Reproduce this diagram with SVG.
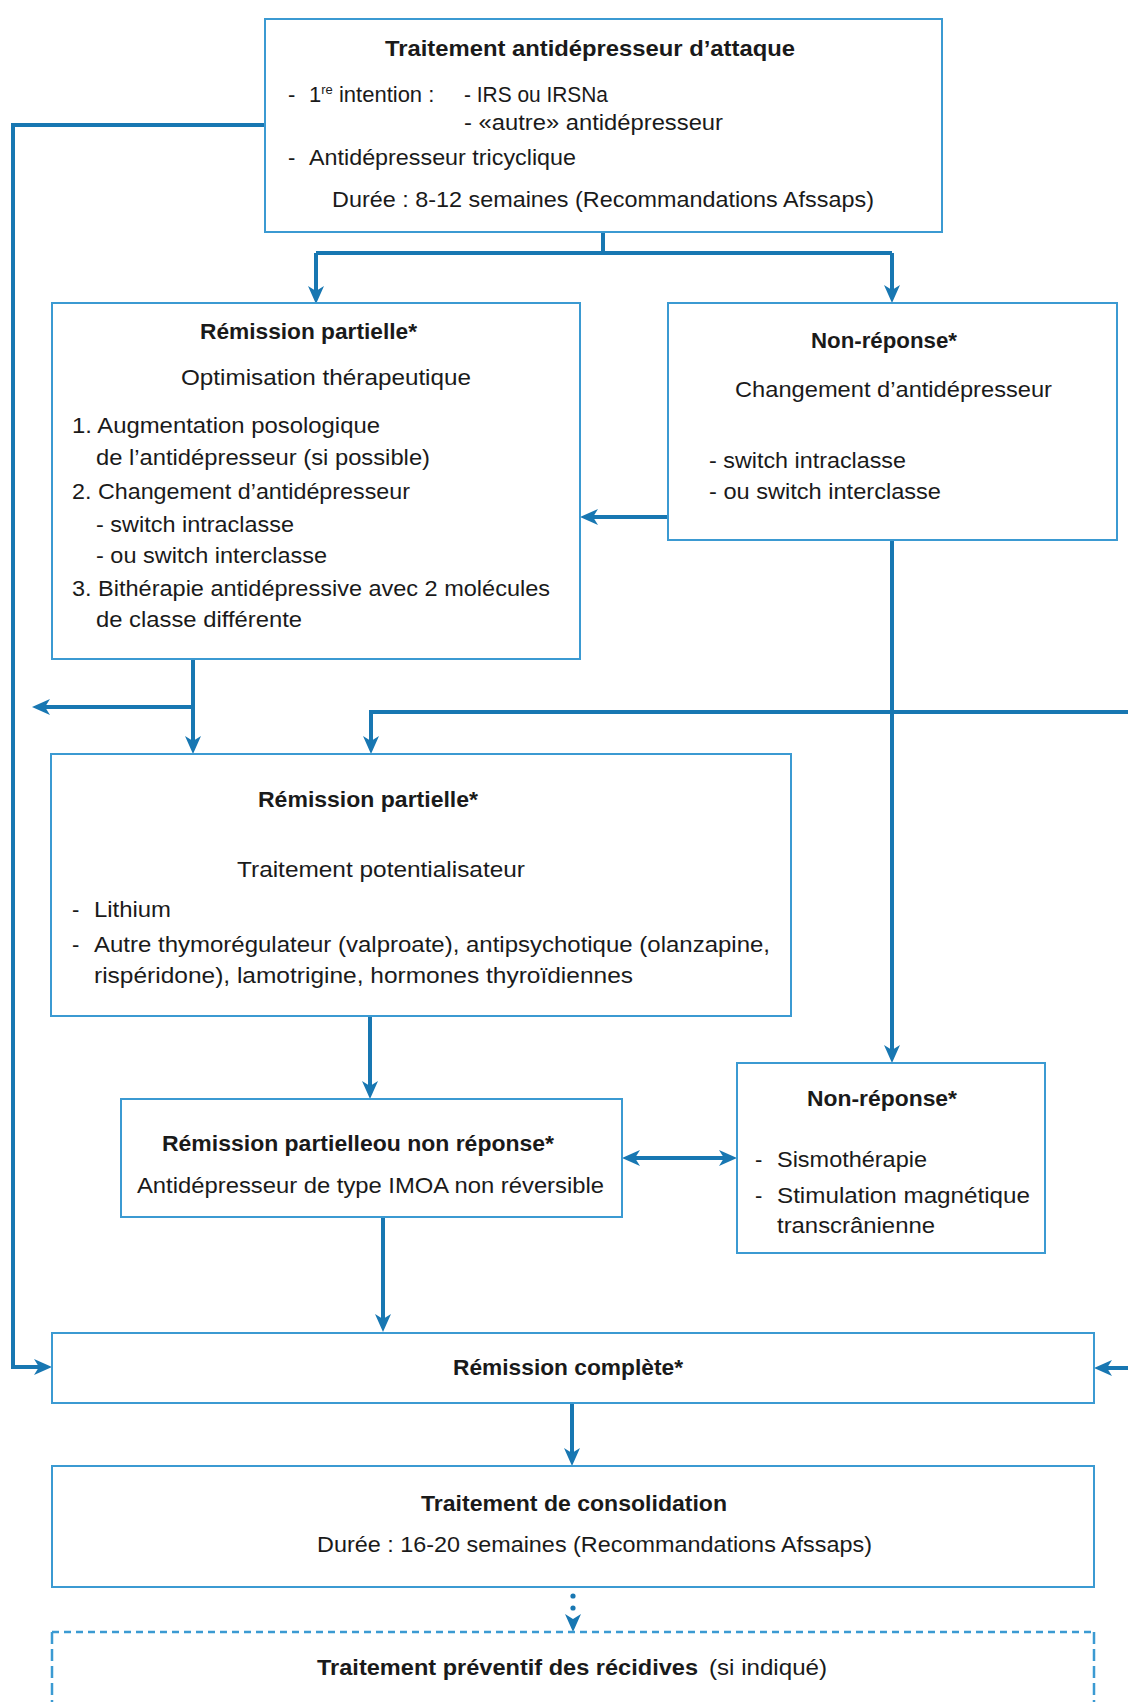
<svg xmlns="http://www.w3.org/2000/svg" width="1128" height="1702" viewBox="0 0 1128 1702">
<style>
.box{fill:#fff;stroke:#3b9ad2;stroke-width:2}
.dbox{fill:none;stroke:#3b9ad2;stroke-width:2.5}
.t{font-family:"Liberation Sans",Arial,sans-serif;font-size:22px;fill:#1a1a1a}
.b{font-family:"Liberation Sans",Arial,sans-serif;font-size:22px;font-weight:bold;fill:#1a1a1a}
.c{fill:none;stroke:#1877b2;stroke-width:4}
</style>
<defs>
<marker id="ah" viewBox="0 0 18 16" refX="6" refY="8" markerWidth="18" markerHeight="16" markerUnits="userSpaceOnUse" orient="auto-start-reverse">
<path d="M0,0 L18,8 L0,16 L5,8 z" fill="#1877b2"/>
</marker>
</defs>
<rect width="1128" height="1702" fill="#fff"/>

<g id="connectors">
<path class="c" d="M265,125 H13 V1367 H40" marker-end="url(#ah)"/>
<path class="c" d="M603,232 V253"/>
<path class="c" d="M316,253 H892"/>
<path class="c" d="M316,253 V292" marker-end="url(#ah)"/>
<path class="c" d="M892,253 V291" marker-end="url(#ah)"/>
<path class="c" d="M667,517 H592" marker-end="url(#ah)"/>
<path class="c" d="M193,659 V742" marker-end="url(#ah)"/>
<path class="c" d="M193,707 H44" marker-end="url(#ah)"/>
<path class="c" d="M1128,712 H371 V742" marker-end="url(#ah)"/>
<path class="c" d="M892,540 V1051" marker-end="url(#ah)"/>
<path class="c" d="M370,1016 V1087" marker-end="url(#ah)"/>
<path class="c" d="M634,1158 H725" marker-start="url(#ah)" marker-end="url(#ah)"/>
<path class="c" d="M383,1217 V1320" marker-end="url(#ah)"/>
<path class="c" d="M1128,1368 H1106" marker-end="url(#ah)"/>
<path class="c" d="M572,1403 V1454" marker-end="url(#ah)"/>
<circle cx="573" cy="1596" r="2.6" fill="#1877b2"/>
<circle cx="573" cy="1608" r="2.6" fill="#1877b2"/>
<path class="c" d="M573,1619 V1620" marker-end="url(#ah)"/>
</g>

<g id="n1">
<rect class="box" x="265" y="19" width="677" height="213"/>
<text class="b" x="385" y="56" textLength="410" lengthAdjust="spacingAndGlyphs">Traitement antidépresseur d’attaque</text>
<text class="t" x="288" y="102">-</text>
<text class="t" x="309" y="102">1<tspan font-size="13" dy="-8">re</tspan><tspan dy="8"> intention :</tspan></text>
<text class="t" x="464" y="102" textLength="144" lengthAdjust="spacingAndGlyphs">- IRS ou IRSNa</text>
<text class="t" x="464" y="130" textLength="259" lengthAdjust="spacingAndGlyphs">- «autre» antidépresseur</text>
<text class="t" x="288" y="165">-</text>
<text class="t" x="309" y="165" textLength="267" lengthAdjust="spacingAndGlyphs">Antidépresseur tricyclique</text>
<text class="t" x="332" y="207" textLength="542" lengthAdjust="spacingAndGlyphs">Durée : 8-12 semaines (Recommandations Afssaps)</text>
</g>

<g id="n2">
<rect class="box" x="52" y="303" width="528" height="356"/>
<text class="b" x="200" y="339" textLength="217" lengthAdjust="spacingAndGlyphs">Rémission partielle*</text>
<text class="t" x="181" y="385" textLength="290" lengthAdjust="spacingAndGlyphs">Optimisation thérapeutique</text>
<text class="t" x="72" y="433" textLength="308" lengthAdjust="spacingAndGlyphs">1. Augmentation posologique</text>
<text class="t" x="96" y="465" textLength="334" lengthAdjust="spacingAndGlyphs">de l’antidépresseur (si possible)</text>
<text class="t" x="72" y="499" textLength="338" lengthAdjust="spacingAndGlyphs">2. Changement d’antidépresseur</text>
<text class="t" x="96" y="532" textLength="198" lengthAdjust="spacingAndGlyphs">- switch intraclasse</text>
<text class="t" x="96" y="563" textLength="231" lengthAdjust="spacingAndGlyphs">- ou switch interclasse</text>
<text class="t" x="72" y="596" textLength="478" lengthAdjust="spacingAndGlyphs">3. Bithérapie antidépressive avec 2 molécules</text>
<text class="t" x="96" y="627" textLength="206" lengthAdjust="spacingAndGlyphs">de classe différente</text>
</g>

<g id="n3">
<rect class="box" x="668" y="303" width="449" height="237"/>
<text class="b" x="811" y="348" textLength="146" lengthAdjust="spacingAndGlyphs">Non-réponse*</text>
<text class="t" x="735" y="397" textLength="317" lengthAdjust="spacingAndGlyphs">Changement d’antidépresseur</text>
<text class="t" x="709" y="468" textLength="197" lengthAdjust="spacingAndGlyphs">- switch intraclasse</text>
<text class="t" x="709" y="499" textLength="232" lengthAdjust="spacingAndGlyphs">- ou switch interclasse</text>
</g>

<g id="n4">
<rect class="box" x="51" y="754" width="740" height="262"/>
<text class="b" x="258" y="807" textLength="220" lengthAdjust="spacingAndGlyphs">Rémission partielle*</text>
<text class="t" x="237" y="877" textLength="288" lengthAdjust="spacingAndGlyphs">Traitement potentialisateur</text>
<text class="t" x="72" y="917">-</text>
<text class="t" x="94" y="917" textLength="77" lengthAdjust="spacingAndGlyphs">Lithium</text>
<text class="t" x="72" y="952">-</text>
<text class="t" x="94" y="952" textLength="676" lengthAdjust="spacingAndGlyphs">Autre thymorégulateur (valproate), antipsychotique (olanzapine,</text>
<text class="t" x="94" y="983" textLength="539" lengthAdjust="spacingAndGlyphs">rispéridone),  lamotrigine, hormones thyroïdiennes</text>
</g>

<g id="n5">
<rect class="box" x="121" y="1099" width="501" height="118"/>
<text class="b" x="162" y="1151" textLength="392" lengthAdjust="spacingAndGlyphs">Rémission partielleou non réponse*</text>
<text class="t" x="137" y="1193" textLength="467" lengthAdjust="spacingAndGlyphs">Antidépresseur de type IMOA non réversible</text>
</g>

<g id="n6">
<rect class="box" x="737" y="1063" width="308" height="190"/>
<text class="b" x="807" y="1106" textLength="150" lengthAdjust="spacingAndGlyphs">Non-réponse*</text>
<text class="t" x="755" y="1167">-</text>
<text class="t" x="777" y="1167" textLength="150" lengthAdjust="spacingAndGlyphs">Sismothérapie</text>
<text class="t" x="755" y="1203">-</text>
<text class="t" x="777" y="1203" textLength="253" lengthAdjust="spacingAndGlyphs">Stimulation magnétique</text>
<text class="t" x="777" y="1233" textLength="158" lengthAdjust="spacingAndGlyphs">transcrânienne</text>
</g>

<g id="n7">
<rect class="box" x="52" y="1333" width="1042" height="70"/>
<text class="b" x="453" y="1375" textLength="230" lengthAdjust="spacingAndGlyphs">Rémission complète*</text>
</g>

<g id="n8">
<rect class="box" x="52" y="1466" width="1042" height="121"/>
<text class="b" x="421" y="1511" textLength="306" lengthAdjust="spacingAndGlyphs">Traitement de consolidation</text>
<text class="t" x="317" y="1552" textLength="555" lengthAdjust="spacingAndGlyphs">Durée : 16-20 semaines (Recommandations Afssaps)</text>
</g>

<g id="n9">
<rect x="52" y="1632" width="1042" height="100" fill="#fff"/>
<path class="dbox" d="M52,1632 H1094" stroke-dasharray="7 5"/>
<path class="dbox" d="M52,1632 V1710 M1094,1632 V1710" stroke-dasharray="12 5"/>
<text class="b" x="317" y="1675" textLength="381" lengthAdjust="spacingAndGlyphs">Traitement préventif des récidives</text>
<text class="t" x="709" y="1675" textLength="118" lengthAdjust="spacingAndGlyphs">(si indiqué)</text>
</g>
</svg>
